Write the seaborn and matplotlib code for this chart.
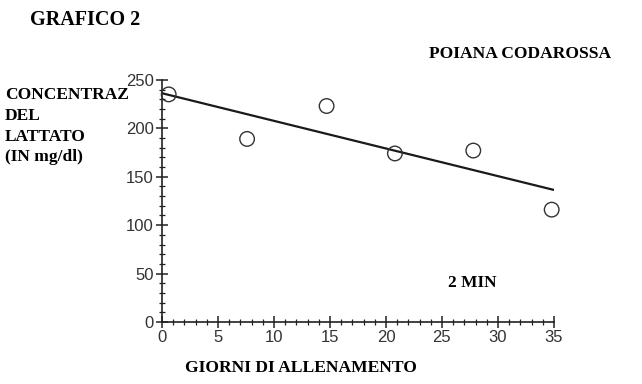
import numpy as np
import pandas as pd
import seaborn as sns
import matplotlib.pyplot as plt
from matplotlib.ticker import MultipleLocator

# valori
giorni = [0.6, 7.6, 14.7, 20.8, 27.8, 34.8]
lattato = [235, 189, 223, 174, 177, 116]
x_ticks = [0, 5, 10, 15, 20, 25, 30, 35]
y_ticks = [0, 50, 100, 150, 200, 250]

df = pd.DataFrame({"giorni": giorni, "lattato": lattato})

sns.set_style("white")
plt.rcParams["font.family"] = ["Liberation Sans", "DejaVu Sans"]

fig = plt.figure(figsize=(6.42, 3.84), dpi=100)
ax = fig.add_axes([0.2523, 0.1615, 0.6105, 0.6305])
ax.set_xlim(0, 35)
ax.set_ylim(0, 250)

# retta di regressione fino ai bordi dell'asse
sns.regplot(x="giorni", y="lattato", data=df, ci=None, ax=ax,
            scatter=False, truncate=False,
            line_kws={"color": "#1a1a1a", "linewidth": 1.6})
sns.scatterplot(x="giorni", y="lattato", data=df, ax=ax,
                marker="o", s=110, facecolor="none",
                edgecolor="#333333", linewidth=1.0, zorder=3, clip_on=False)

ax.set_xlim(0, 35)
ax.set_ylim(0, 250)
ax.set_xticks(x_ticks)
ax.set_yticks(y_ticks)
ax.xaxis.set_minor_locator(MultipleLocator(1))
ax.yaxis.set_minor_locator(MultipleLocator(10))
ax.tick_params(which="major", direction="inout", length=8, width=1.1,
               labelsize=12, labelcolor="#333333", color="#222222", pad=2)
ax.tick_params(which="minor", direction="inout", length=4.5, width=0.9,
               color="#222222")
ax.tick_params(axis="both", which="both", bottom=True, left=True)

for s in ["top", "right"]:
    ax.spines[s].set_visible(False)
for s in ["left", "bottom"]:
    ax.spines[s].set_color("#222222")
    ax.spines[s].set_linewidth(1.2)

ax.set_xlabel("")
ax.set_ylabel("")

serif = ["Liberation Serif", "DejaVu Serif"]
fig.text(30 / 642, 1 - 20 / 384, "GRAFICO 2", family=serif, weight="bold",
         fontsize=14.5, va="center", ha="left", color="black")
fig.text(611 / 642, 1 - 54 / 384, "POIANA CODAROSSA", family=serif,
         weight="bold", fontsize=12.6, va="center", ha="right", color="black")
fig.text(5 / 642, 1 - 87 / 384, "CONCENTRAZ\nDEL\nLATTATO\n(IN mg/dl)",
         family=serif, weight="bold", fontsize=12.5, va="top", ha="left",
         linespacing=1.4, color="black")
fig.text(185 / 642, 1 - 368 / 384, "GIORNI DI ALLENAMENTO", family=serif,
         weight="bold", fontsize=12.6, va="center", ha="left", color="black")
fig.text(448 / 642, 1 - 283 / 384, "2 MIN", family=serif, weight="bold",
         fontsize=12.5, va="center", ha="left", color="black")

fig.savefig("out.png", dpi=100)
